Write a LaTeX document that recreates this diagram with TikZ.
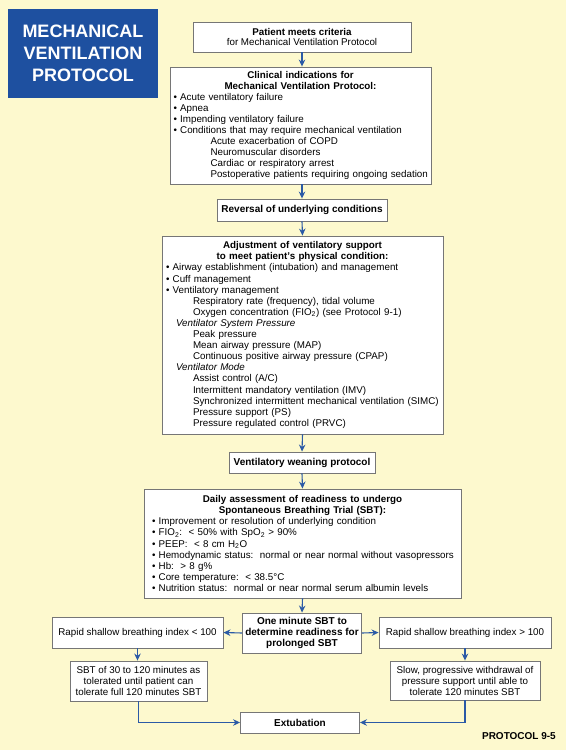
\documentclass[tikz,border=0pt]{standalone}
\usepackage{fontspec}
\setmainfont{Liberation Sans}
\usetikzlibrary{arrows.meta}
\definecolor{bgyellow}{RGB}{253,249,206}
\definecolor{titleblue}{RGB}{30,80,160}
\definecolor{arrowblue}{RGB}{43,90,166}
\definecolor{boxgray}{RGB}{118,118,118}
\newcommand\bul[1]{\mbox{\textbullet\ #1}}
\newcommand\subln[2]{\mbox{\hspace*{#1}#2}}
\begin{document}
\begin{tikzpicture}[x=1pt,y=-1pt,
  box/.style={draw=boxgray, line width=0.9pt, fill=white, inner sep=0pt,
    font=\fontsize{9.8}{11.1}\selectfont},
  bbox/.style={box, font=\fontsize{10}{11.1}\selectfont\bfseries},
  flow/.style={draw=arrowblue, line width=1.1pt, -{Stealth[length=7pt,width=6.5pt]}}]
\fill[bgyellow] (0,0) rectangle (566,750);
\useasboundingbox (0,0) rectangle (566,750);

\node[fill=titleblue, minimum width=150pt, minimum height=89pt, inner sep=0pt,
  text=white, font=\fontsize{18}{22}\selectfont\bfseries, align=center]
  (title) at (83,53.5) {MECHANICAL\\VENTILATION\\PROTOCOL};

\node[box, minimum width=218pt, minimum height=30pt, align=center, font=\fontsize{9.8}{10.5}\selectfont]
  (b1) at (302,37) {\textbf{Patient meets criteria}\\for Mechanical Ventilation Protocol};

\node[box, minimum width=261pt, minimum height=117pt, text width=254pt, align=left]
  (b2) at (300.5,125.5) {{\centering\bfseries Clinical indications for\\Mechanical Ventilation Protocol:\par}%
\bul{Acute ventilatory failure}\\
\bul{Apnea}\\
\bul{Impending ventilatory failure}\\
\bul{Conditions that may require mechanical ventilation}\\
\subln{37pt}{Acute exacerbation of COPD}\\
\subln{37pt}{Neuromuscular disorders}\\
\subln{37pt}{Cardiac or respiratory arrest}\\
\subln{37pt}{Postoperative patients requiring ongoing sedation}};

\node[bbox, minimum width=170pt, minimum height=22pt] (b3) at (302,210) {Reversal of underlying conditions};

\node[box, minimum width=281pt, minimum height=198pt, text width=273pt, align=left]
  (b4) at (302.5,335) {{\centering\bfseries Adjustment of ventilatory support\\to meet patient’s physical condition:\par}%
\bul{Airway establishment (intubation) and management}\\
\bul{Cuff management}\\
\bul{Ventilatory management}\\
\subln{27pt}{Respiratory rate (frequency), tidal volume}\\
\subln{27pt}{Oxygen concentration (FIO\textsubscript{2}) (see Protocol 9-1)}\\
\subln{10pt}{\textit{Ventilator System Pressure}}\\
\subln{27pt}{Peak pressure}\\
\subln{27pt}{Mean airway pressure (MAP)}\\
\subln{27pt}{Continuous positive airway pressure (CPAP)}\\
\subln{10pt}{\textit{Ventilator Mode}}\\
\subln{27pt}{Assist control (A/C)}\\
\subln{27pt}{Intermittent mandatory ventilation (IMV)}\\
\subln{27pt}{Synchronized intermittent mechanical ventilation (SIMC)}\\
\subln{27pt}{Pressure support (PS)}\\
\subln{27pt}{Pressure regulated control (PRVC)}};

\node[bbox, minimum width=146pt, minimum height=21pt] (b5) at (302,462.5) {Ventilatory weaning protocol};

\node[box, minimum width=317pt, minimum height=109pt, text width=301pt, align=left]
  (b6) at (302.5,543.5) {{\centering\bfseries Daily assessment of readiness to undergo\\Spontaneous Breathing Trial (SBT):\par}%
\bul{Improvement or resolution of underlying condition}\\
\bul{FIO\textsubscript{2}:\ \ {<} 50\% with SpO\textsubscript{2} {>} 90\%}\\
\bul{PEEP:\ \ {<} 8 cm H\textsubscript{2}O}\\
\bul{Hemodynamic status:\ \ normal or near normal without vasopressors}\\
\bul{Hb:\ \ {>} 8 g\%}\\
\bul{Core temperature:\ \ {<} 38.5°C}\\
\bul{Nutrition status:\ \ normal or near normal serum albumin levels}};

\node[bbox, minimum width=119pt, minimum height=40pt, align=center, font=\fontsize{10}{10.7}\selectfont\bfseries]
  (c) at (302,633) {One minute SBT to\\determine readiness for\\prolonged SBT};

\node[box, minimum width=171pt, minimum height=31pt] (l1) at (137.5,632.5) {Rapid shallow breathing index {<} 100};
\node[box, minimum width=172pt, minimum height=31pt] (r1) at (465,632.5) {Rapid shallow breathing index {>} 100};

\node[box, minimum width=137pt, minimum height=40pt, align=center, font=\fontsize{9.8}{11}\selectfont]
  (l2) at (138.5,681) {SBT of 30 to 120 minutes as\\tolerated until patient can\\tolerate full 120 minutes SBT};
\node[box, minimum width=150pt, minimum height=39pt, align=center, font=\fontsize{9.8}{11}\selectfont]
  (r2) at (465,680.5) {Slow, progressive withdrawal of\\pressure support until able to\\tolerate 120 minutes SBT};

\node[bbox, minimum width=119pt, minimum height=21pt] (ext) at (300,722.5) {Extubation};

\node[anchor=east, inner sep=0pt, font=\fontsize{10}{12}\selectfont\bfseries] (plabel) at (556,736) {PROTOCOL 9-5};

\draw[flow] (b1.south) -- (b1.south |- b2.north);
\draw[flow] (b3.north |- b2.south) -- (b3.north);
\draw[flow] (b3.south) -- (b4.north);
\draw[flow] (b4.south) -- (b5.north);
\draw[flow] (b5.south) -- (b6.north);
\draw[flow] (b6.south) -- (c.north);
\draw[flow] (c.west) -- (l1.east);
\draw[flow] (c.east) -- (r1.west);
\draw[flow] (l1.south) -- (l1.south |- l2.north);
\draw[flow] (r1.south) -- (r2.north);
\draw[flow] (l2.south) |- (ext.west);
\draw[flow] (r2.south) |- (ext.east);
\end{tikzpicture}
\end{document}
